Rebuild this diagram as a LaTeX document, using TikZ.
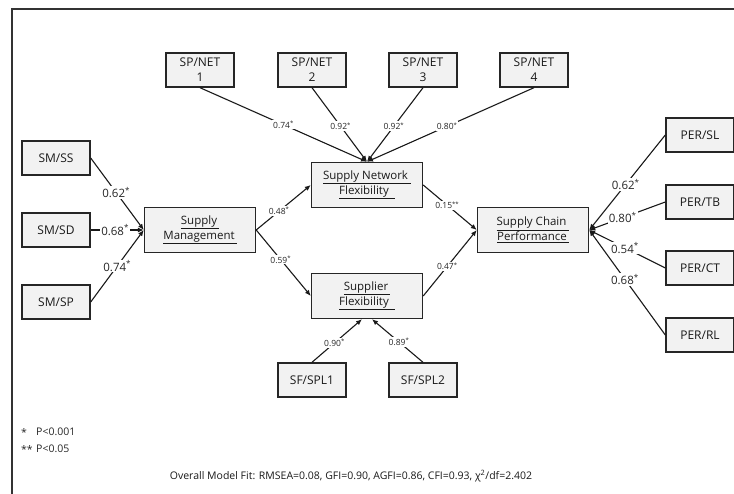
\documentclass[tikz,border=0pt]{standalone}
\usepackage{fontspec}
\setmainfont{Open Sans}
\usetikzlibrary{arrows.meta,calc}
\begin{document}
\begin{tikzpicture}[x=1pt,y=-1pt,
 ind/.style={draw=black!85, line width=1.4pt, fill=black!5, minimum width=68pt, minimum height=34pt, inner sep=0pt, font=\fontsize{12}{15}\selectfont, text=black!90, align=center},
 lat/.style={ind, minimum width=111pt, minimum height=45pt, font=\fontsize{11.5}{15}\selectfont},
 arr/.style={draw=black!90, line width=1.1pt, -{Latex[length=6pt,width=5pt]}},
 lbl/.style={fill=white, inner sep=1pt, font=\fontsize{11.5}{12}\selectfont, text=black!85},
 slbl/.style={lbl, font=\fontsize{8.5}{9}\selectfont}]
\useasboundingbox (0,0) rectangle (734,494);
\draw[line width=1.3pt, black!80] (12,494) -- (12,9) -- (734,9);

% latent variables
\node[lat] (sm)   at (200,230) {\underline{Supply\kern2pt}\\\underline{Management\kern2pt}};
\node[lat] (snf)  at (367,185) {\underline{Supply Network\kern3pt}\\\underline{Flexibility\kern6pt}};
\node[lat] (supf) at (367,296) {\underline{Supplier\kern2pt}\\\underline{Flexibility\kern6pt}};
\node[lat] (scp)  at (533,230) {\underline{Supply Chain\kern3pt}\\\underline{Performance\kern2pt}};

% indicators
\node[ind] (net1) at (200,70) {SP/NET\\1};
\node[ind] (net2) at (312,70) {SP/NET\\2};
\node[ind] (net3) at (423,70) {SP/NET\\3};
\node[ind] (net4) at (534,70) {SP/NET\\4};
\node[ind] (ss) at (56,158) {SM/SS};
\node[ind] (sd) at (56,230) {SM/SD};
\node[ind] (sp) at (56,302) {SM/SP};
\node[ind] (spl1) at (312,380) {SF/SPL1};
\node[ind] (spl2) at (423,380) {SF/SPL2};
\node[ind] (sl) at (700,135) {PER/SL};
\node[ind] (tb) at (700,202) {PER/TB};
\node[ind] (ct) at (700,268) {PER/CT};
\node[ind] (rl) at (700,335) {PER/RL};

% connectors
\draw[arr] (ss.east) -- node[lbl,pos=0.48]{0.62\textsuperscript{*}} (sm.west);
\draw[arr] (sd.east) -- node[lbl,pos=0.46]{0.68\textsuperscript{*}} (sm.west);
\draw[arr] (sp.east) -- node[lbl,pos=0.5]{0.74\textsuperscript{*}} (sm.west);

\draw[arr] (sm.east) -- node[slbl,pos=0.42]{0.48\textsuperscript{*}} (snf.west);
\draw[arr] (sm.east) -- node[slbl,pos=0.45]{0.59\textsuperscript{*}} (supf.west);
\draw[arr] (snf.east) -- node[slbl,pos=0.45]{0.15\textsuperscript{**}} (scp.west);
\draw[arr] (supf.east) -- node[slbl,pos=0.45]{0.47\textsuperscript{*}} (scp.west);

\draw[arr] (net1.south) -- node[slbl,pos=0.5]{0.74\textsuperscript{*}} (snf.north);
\draw[arr] (net2.south) -- node[slbl,pos=0.52]{0.92\textsuperscript{*}} (snf.north);
\draw[arr] (net3.south) -- node[slbl,pos=0.52]{0.92\textsuperscript{*}} (snf.north);
\draw[arr] (net4.south) -- node[slbl,pos=0.52]{0.80\textsuperscript{*}} (snf.north);

\draw[arr] (spl1.north) -- node[slbl,pos=0.45]{0.90\textsuperscript{*}} ($(supf.south)+(-5,0)$);
\draw[arr] (spl2.north) -- node[slbl,pos=0.47]{0.89\textsuperscript{*}} ($(supf.south)+(5,0)$);

\draw[arr] (sl.west) -- node[lbl,pos=0.52]{0.62\textsuperscript{*}} (scp.east);
\draw[arr] (tb.west) -- node[lbl,pos=0.56]{0.80\textsuperscript{*}} (scp.east);
\draw[arr] (ct.west) -- node[lbl,pos=0.53]{0.54\textsuperscript{*}} (scp.east);
\draw[arr] (rl.west) -- node[lbl,pos=0.53]{0.68\textsuperscript{*}} (scp.east);

% legend
\node[anchor=west, inner sep=0pt, font=\fontsize{10.5}{12}\selectfont, text=black!85] (st1) at (21,433) {*};
\node[anchor=west, inner sep=0pt, font=\fontsize{10.5}{12}\selectfont, text=black!85] (p1) at (36,432) {P<0.001};
\node[anchor=west, inner sep=0pt, font=\fontsize{10.5}{12}\selectfont, text=black!85] (st2) at (21,450) {**};
\node[anchor=west, inner sep=0pt, font=\fontsize{10.5}{12}\selectfont, text=black!85] (p2) at (36,449) {P<0.05};
\node[inner sep=0pt, font=\fontsize{10.5}{12}\selectfont, text=black!90] (fit) at (351,476) {Overall Model Fit: RMSEA=0.08, GFI=0.90, AGFI=0.86, CFI=0.93, χ\textsuperscript{2}/df=2.402};
\end{tikzpicture}
\end{document}
